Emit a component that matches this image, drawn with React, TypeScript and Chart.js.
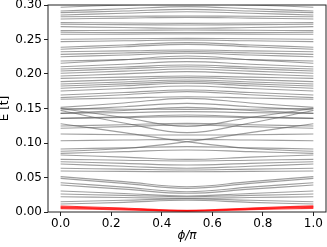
import { useEffect, useRef } from "react";
import { Chart, registerables } from "chart.js";

Chart.register(...registerables);

const PHI = [0, 0.25, 0.5, 0.75, 1.0];

const GRAY_LEVELS: number[][] = [
  [0.2967, 0.3000, 0.3020, 0.3000, 0.2967],
  [0.2913, 0.2945, 0.2976, 0.2945, 0.2913],
  [0.2889, 0.2912, 0.2937, 0.2912, 0.2889],
  [0.2855, 0.2880, 0.2903, 0.2880, 0.2855],
  [0.2830, 0.2836, 0.2840, 0.2836, 0.2830],
  [0.2797, 0.2810, 0.2821, 0.2810, 0.2797],
  [0.2744, 0.2740, 0.2734, 0.2740, 0.2744],
  [0.2720, 0.2715, 0.2710, 0.2715, 0.2720],
  [0.2686, 0.2674, 0.2662, 0.2674, 0.2686],
  [0.2628, 0.2633, 0.2638, 0.2633, 0.2628],
  [0.2604, 0.2601, 0.2599, 0.2601, 0.2604],
  [0.2575, 0.2578, 0.2580, 0.2578, 0.2575],
  [0.2503, 0.2510, 0.2517, 0.2510, 0.2503],
  [0.2469, 0.2481, 0.2493, 0.2481, 0.2469],
  [0.2387, 0.2420, 0.2454, 0.2420, 0.2387],
  [0.2358, 0.2394, 0.2430, 0.2394, 0.2358],
  [0.2323, 0.2335, 0.2348, 0.2335, 0.2323],
  [0.2285, 0.2305, 0.2324, 0.2305, 0.2285],
  [0.2251, 0.2275, 0.2300, 0.2275, 0.2251],
  [0.2188, 0.2208, 0.2227, 0.2208, 0.2188],
  [0.2155, 0.2208, 0.2261, 0.2208, 0.2155],
  [0.2106, 0.2142, 0.2179, 0.2142, 0.2106],
  [0.2072, 0.2101, 0.2130, 0.2101, 0.2072],
  [0.2043, 0.2075, 0.2106, 0.2075, 0.2043],
  [0.2010, 0.2041, 0.2072, 0.2041, 0.2010],
  [0.1971, 0.2002, 0.2034, 0.2002, 0.1971],
  [0.1937, 0.1954, 0.1971, 0.1954, 0.1937],
  [0.1889, 0.1918, 0.1947, 0.1918, 0.1889],
  [0.1855, 0.1884, 0.1913, 0.1884, 0.1855],
  [0.1826, 0.1857, 0.1889, 0.1857, 0.1826],
  [0.1793, 0.1829, 0.1865, 0.1829, 0.1793],
  [0.1754, 0.1790, 0.1826, 0.1790, 0.1754],
  [0.1696, 0.1732, 0.1768, 0.1732, 0.1696],
  [0.1657, 0.1700, 0.1744, 0.1700, 0.1657],
  [0.1633, 0.1652, 0.1671, 0.1652, 0.1633],
  [0.1517, 0.1580, 0.1647, 0.1580, 0.1517],
  [0.1478, 0.1525, 0.1575, 0.1525, 0.1478],
  [0.1430, 0.1472, 0.1517, 0.1472, 0.1430],
  [0.1500, 0.1490, 0.1488, 0.1490, 0.1500],
  [0.1500, 0.1370, 0.1240, 0.1370, 0.1500],
  [0.1470, 0.1290, 0.1150, 0.1290, 0.1470],
  [0.1430, 0.1440, 0.1454, 0.1440, 0.1430],
  [0.1357, 0.1380, 0.1406, 0.1380, 0.1357],
  [0.1357, 0.1370, 0.1382, 0.1370, 0.1357],
  [0.1246, 0.1265, 0.1285, 0.1265, 0.1246],
  [0.1213, 0.1237, 0.1261, 0.1237, 0.1213],
  [0.1280, 0.1150, 0.1019, 0.0920, 0.0880],
  [0.0880, 0.0920, 0.1019, 0.1150, 0.1280],
  [0.1130, 0.1120, 0.1116, 0.1120, 0.1130],
  [0.1033, 0.1043, 0.1053, 0.1043, 0.1033],
  [0.0913, 0.0930, 0.0947, 0.0930, 0.0913],
  [0.0850, 0.0875, 0.0899, 0.0875, 0.0850],
  [0.0826, 0.0795, 0.0763, 0.0795, 0.0826],
  [0.0763, 0.0751, 0.0739, 0.0751, 0.0763],
  [0.0729, 0.0705, 0.0681, 0.0705, 0.0729],
  [0.0696, 0.0664, 0.0633, 0.0664, 0.0696],
  [0.0633, 0.0621, 0.0609, 0.0621, 0.0633],
  [0.0594, 0.0589, 0.0584, 0.0589, 0.0594],
  [0.0512, 0.0440, 0.0367, 0.0440, 0.0512],
  [0.0488, 0.0415, 0.0343, 0.0415, 0.0488],
  [0.0425, 0.0360, 0.0294, 0.0360, 0.0425],
  [0.0391, 0.0331, 0.0271, 0.0331, 0.0391],
  [0.0304, 0.0268, 0.0232, 0.0268, 0.0304],
  [0.0261, 0.0241, 0.0222, 0.0241, 0.0261],
  [0.0222, 0.0210, 0.0198, 0.0210, 0.0222],
  [0.0149, 0.0170, 0.0190, 0.0170, 0.0149],
  [0.0116, 0.0140, 0.0170, 0.0140, 0.0116],
];

const RED_LEVELS: number[][] = [
  [0.0087, 0.0058, 0.0025, 0.0058, 0.0088],
  [0.0075, 0.0048, 0.0020, 0.0050, 0.0078],
  [0.0062, 0.0040, 0.0015, 0.0042, 0.0066],
  [0.0050, 0.0032, 0.0010, 0.0033, 0.0053],
];

const X_TICKS = [0, 0.2, 0.4, 0.6, 0.8, 1.0];
const Y_TICKS = [0, 0.05, 0.1, 0.15, 0.2, 0.25, 0.3];

const FONT = "'DejaVu Sans', sans-serif";

const framePlugin = {
  id: "frame",
  afterDatasetsDraw(chart: any) {
    const { ctx, chartArea: a } = chart;
    ctx.save();
    ctx.strokeStyle = "#222";
    ctx.lineWidth = 1;
    ctx.strokeRect(a.left, a.top, a.right - a.left, a.bottom - a.top);
    ctx.restore();
  },
};

export default function App() {
  const ref = useRef<HTMLCanvasElement | null>(null);

  useEffect(() => {
    if (!ref.current) return;
    const toPts = (vals: number[]) => vals.map((v, i) => ({ x: PHI[i], y: v }));
    const red = RED_LEVELS.map((lv) => ({
      data: toPts(lv),
      borderColor: "rgba(255,0,0,0.75)",
      borderWidth: 1.2,
      pointRadius: 0,
      tension: 0.4,
      fill: false,
    }));
    const gray = GRAY_LEVELS.map((lv) => ({
      data: toPts(lv),
      borderColor: "rgba(95,95,95,0.6)",
      borderWidth: 1.1,
      pointRadius: 0,
      tension: 0.4,
      fill: false,
    }));
    const chart = new Chart(ref.current, {
      type: "line",
      data: { datasets: [...red, ...gray] },
      options: {
        animation: false,
        responsive: false,
        devicePixelRatio: 1,
        layout: { padding: { top: 5, right: 1, left: 0, bottom: 0 } },
        plugins: { legend: { display: false }, tooltip: { enabled: false } },
        font: { family: FONT },
        scales: {
          x: {
            type: "linear",
            min: -0.05,
            max: 1.05,
            afterBuildTicks: (s: any) => {
              s.ticks = X_TICKS.map((v) => ({ value: v }));
            },
            afterFit: (s: any) => {
              s.height = 35;
              s.paddingLeft = 0;
              s.paddingRight = 0;
            },
            ticks: {
              callback: (v: any) => Number(v).toFixed(1),
              color: "#000",
              font: { family: FONT, size: 12 },
              padding: 1,
              maxRotation: 0,
              autoSkip: false,
            },
            grid: { drawOnChartArea: false, drawTicks: true, tickLength: 4, color: "#222" },
            border: { display: false },
            title: {
              display: true,
              text: "ϕ/π",
              color: "#000",
              font: { family: FONT, size: 12, style: "italic" },
              padding: { top: 0, bottom: 4 },
            },
          },
          y: {
            type: "linear",
            min: 0,
            max: 0.3,
            afterBuildTicks: (s: any) => {
              s.ticks = Y_TICKS.map((v) => ({ value: v }));
            },
            afterFit: (s: any) => {
              s.width = 48;
              s.paddingTop = 0;
              s.paddingBottom = 0;
            },
            ticks: {
              callback: (v: any) => Number(v).toFixed(2),
              color: "#000",
              font: { family: FONT, size: 12 },
              padding: 2,
              autoSkip: false,
            },
            grid: { drawOnChartArea: false, drawTicks: true, tickLength: 4, color: "#222" },
            border: { display: false },
            title: {
              display: true,
              text: "E [t]",
              color: "#000",
              font: { family: FONT, size: 12 },
              padding: { top: -2, bottom: 0 },
            },
          },
        },
      },
      plugins: [framePlugin],
    } as any);
    return () => chart.destroy();
  }, []);

  return (
    <div style={{ position: "fixed", left: 0, top: 0, width: 327, height: 247, background: "#fff" }}>
      <canvas ref={ref} width={327} height={247} style={{ display: "block" }} />
    </div>
  );
}
